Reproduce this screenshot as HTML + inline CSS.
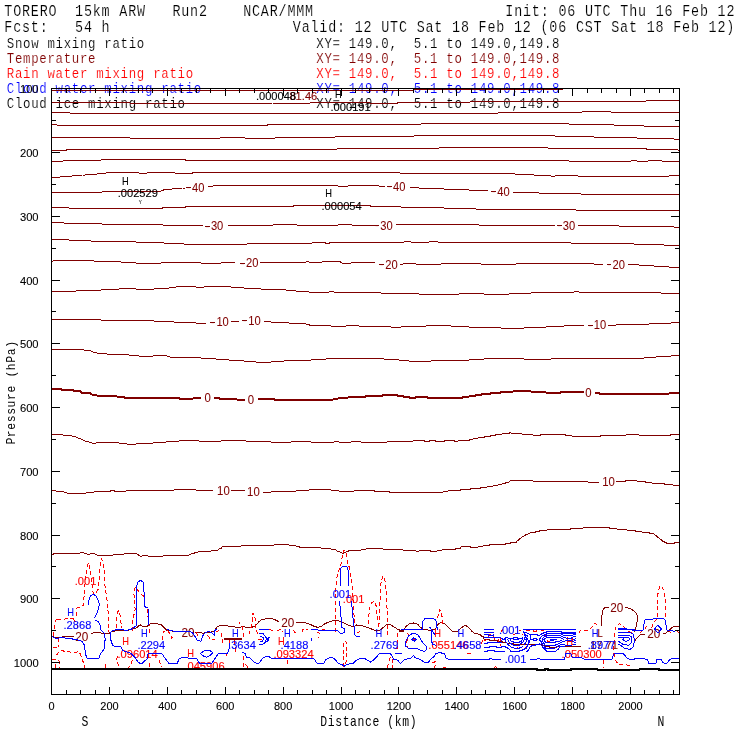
<!DOCTYPE html>
<html lang="en"><head><meta charset="utf-8"><title>TORERO 15km ARW cross section</title>
<style>
html,body{margin:0;padding:0;background:#fff;}
body{width:740px;height:740px;overflow:hidden;}
svg{display:block;}
text{white-space:pre;}
.m{font-family:"Liberation Mono","DejaVu Sans Mono",monospace;stroke:#fff;stroke-width:0.14px;}
.s{font-family:"Liberation Sans","DejaVu Sans",sans-serif;}
.t1{font-size:13.4px;letter-spacing:0.81px;}
.t2{font-size:12.4px;letter-spacing:0.69px;}
.t3{font-size:11.4px;letter-spacing:0.61px;stroke:none;}
.ax{font-size:11.2px;fill:#000;stroke:#000;stroke-width:0.1px;}
.cl{font-size:12px;stroke-width:0.06px;}
.sl{font-size:10.8px;stroke-width:0.12px;}
.ln{fill:none;stroke-linejoin:round;stroke-linecap:butt;}
</style></head><body>
<svg width="740" height="740" viewBox="0 0 740 740">
<rect x="0" y="0" width="740" height="740" fill="#fff"/>
<text class="m t1" transform="translate(4.3 15.9) scale(1 1.19)" fill="#000" text-anchor="start">TORERO  15km ARW   Run2    NCAR/MMM</text>
<text class="m t1" transform="translate(505.3 15.9) scale(1 1.19)" fill="#000" text-anchor="start">Init: 06 UTC Thu 16 Feb 12</text>
<text class="m t1" transform="translate(4.3 31.8) scale(1 1.19)" fill="#000" text-anchor="start">Fcst:   54 h</text>
<text class="m t1" transform="translate(292.8 31.8) scale(1 1.19)" fill="#000" text-anchor="start">Valid: 12 UTC Sat 18 Feb 12 (06 CST Sat 18 Feb 12)</text>
<text class="m t2" transform="translate(6.8 48) scale(1 1.22)" fill="#000" text-anchor="start">Snow mixing ratio</text>
<text class="m t2" transform="translate(316.3 48) scale(1 1.22)" fill="#000" text-anchor="start">XY= 149.0,  5.1 to 149.0,149.8</text>
<text class="m t2" transform="translate(6.8 63) scale(1 1.22)" fill="#800000" text-anchor="start">Temperature</text>
<text class="m t2" transform="translate(316.3 63) scale(1 1.22)" fill="#800000" text-anchor="start">XY= 149.0,  5.1 to 149.0,149.8</text>
<text class="m t2" transform="translate(6.8 78) scale(1 1.22)" fill="#ff0000" text-anchor="start">Rain water mixing ratio</text>
<text class="m t2" transform="translate(316.3 78) scale(1 1.22)" fill="#ff0000" text-anchor="start">XY= 149.0,  5.1 to 149.0,149.8</text>
<text class="m t2" transform="translate(6.8 92.8) scale(1 1.22)" fill="#0000ff" text-anchor="start">Cloud water mixing ratio</text>
<text class="m t2" transform="translate(316.3 92.8) scale(1 1.22)" fill="#0000ff" text-anchor="start">XY= 149.0,  5.1 to 149.0,149.8</text>
<text class="m t2" transform="translate(6.8 107.8) scale(1 1.22)" fill="#000" text-anchor="start">Cloud ice mixing ratio</text>
<text class="m t2" transform="translate(316.3 107.8) scale(1 1.22)" fill="#000" text-anchor="start">XY= 149.0,  5.1 to 149.0,149.8</text>
<g class="ln" stroke="#800000" stroke-width="1" shape-rendering="crispEdges">
<path d="M51.75 90.2 L413 90.1 L416 89.3 L560 89.2 L572 88.5"/>
<path d="M51.75 102.5 L125 102.5 L130 103 L185 103 L185 103.25 L235 103.25 L240 103.75 L267.5 103.75 L272.5 103 L310 103 L315 102.5 L370 102.5 L370 103 L397.5 103 L402.5 102 L470 102 L475 101.25 L555 101.25 L555 101.25 L645 101.25 L647.5 100.25 L679.5 100.25"/>
<path d="M51.75 112.5 L67.5 112.5 L70 113 L125 113 L130 113.75 L185 113.75 L185 113.75 L260 113.75 L265 113 L310 113 L315 113.75 L370 113.75 L370 113.75 L495 113.75 L500 112.5 L555 112.5 L555 112.5 L580 112.5 L582.5 111.75 L610 111.75 L612.5 112.5 L679.5 112.5"/>
<path d="M51.75 124.25 L55 124.25 L57.5 125.25 L125 125.25 L130 125.75 L137.5 125.75 L140 125 L185 125 L185 125 L230 125 L235 125.75 L265 125.75 L270 124.25 L370 124.25 L370 124.25 L420 124.25 L422.5 123.25 L555 123.25 L555 123.25 L567.5 123.25 L570 124.25 L612.5 124.25 L615 125.75 L642.5 125.75 L645 126.25 L679.5 126.25"/>
<path d="M51.75 137.5 L125 137.5 L130 138 L185 138 L185 138 L220 138 L222.5 137 L242.5 137 L245 138 L275 138 L277.5 137 L335 137 L340 136.5 L370 136.5 L370 136.5 L412.5 136.5 L415 135.75 L555 135.75 L555 136.5 L592.5 136.5 L595 137.5 L635 137.5 L637.5 138.25 L672.5 138.25 L675 139.25 L679.5 139.25"/>
<path d="M51.75 150.75 L65 150.75 L67.5 149.5 L185 149.5 L185 149.25 L335 149.25 L340 148.75 L370 148.75 L370 148.75 L437.5 148.75 L440 147.75 L545 147.75 L550 148.25 L555 148.25 L555 148.25 L645 148.25 L647.5 149.5 L675 149.5 L677.5 150 L679.5 150"/>
<path d="M51.75 161.25 L62.5 161.25 L65 160.25 L100 160.25 L102.5 159.25 L185 159.25 L185 160 L370 160 L370 160.25 L555 160.25 L555 160.25 L567.5 160.25 L570 161.25 L630 161.25 L632.5 160.25 L635 160.25 L637.5 161.25 L647.5 161.25 L650 160.25 L660 160.25 L662.5 161.25 L679.5 161.25"/>
<path d="M51.75 177.5 L57.5 177.5 L65 176.25 L70 176.25 L82.5 175 L85 175 L100 173.75 L102.5 173.75 L107.5 172.75 L137.5 172.75 L140 173.25 L145 173.25 L155 172.25 L162.5 172.25 L175 173 L185 173 L185 173 L192.5 173 L195 172 L335 172 L340 172.75 L355 172.75 L360 172 L370 172 L370 172 L397.5 172 L400 173 L495 173 L520 174.25 L522.5 174.25 L545 175.75 L547.5 175.75 L555 176.25 L555 175.75 L577.5 175.75 L580 176.5 L667.5 176.5 L670 175.75 L679.5 175.75"/>
<path d="M51.75 192.5 L100 192.5 L105 191.25 L160 191.25 L165 189.5 L167.5 189.5 L182.5 188 L185 188 M207.5 186.25 L212.5 186.25 L215 185.5 L335 185.5 L340 186.25 L347.5 186.25 L350 185.5 L370 185.5 L370 185.5 L377.5 185.5 L380 186.25 L385 186.25 M410 187.5 L417.5 187.5 L420 188.25 L442.5 188.25 L445 189.25 L467.5 189.25 L470 190.5 L487.5 190.5 M512.5 192.5 L537.5 192.5 L540 193.5 L555 193.5 L555 193.5 L580 193.5 L582.5 194.5 L679.5 194.5"/>
<path d="M51.75 207.5 L67.5 207.5 L70 208.5 L137.5 208.5 L140 208 L162.5 208 L165 207.5 L185 207.5 L185 206.5 L292.5 206.5 L295 205.25 L370 205.25 L370 206.5 L400 206.5 L402.5 207.5 L442.5 207.5 L445 208.5 L475 208.5 L477.5 209.5 L555 209.5 L555 209.5 L575 209.5 L577.5 210.5 L679.5 210.5"/>
<path d="M51.75 222.5 L62.5 222.5 L65 223.25 L100 223.25 L102.5 224.25 L160 224.25 L162.5 225 L185 225 L185 225.5 L202.5 225.5 M227.5 225.75 L235 225.75 L237.5 225.25 L272.5 225.25 L275 224.5 L295 224.5 L297.5 225.25 L337.5 225.25 L340 224.5 L350 224.5 L352.5 225.25 L370 225.25 L370 225.25 L377.5 225.25 M396.25 224.25 L477.5 224.25 L480 225.25 L555 225.25 M577.5 225.25 L617.5 225.25 L620 226.25 L672.5 226.25 L675 227.25 L679.5 227.25"/>
<path d="M51.75 239.25 L67.5 239.25 L70 240.5 L90 240.5 L92.5 241.5 L135 241.5 L137.5 242.5 L162.5 242.5 L165 243.5 L182.5 243.5 L185 244.5 L185 244.5 L245 244.5 L247.5 243.75 L310 243.75 L312.5 242.75 L325 242.75 L326.25 243.5 L328.75 243.5 L330 242.75 L370 242.75 L370 242.75 L402.5 242.75 L405 241.75 L410 241.75 L412.5 242.75 L427.5 242.75 L430 241.75 L437.5 241.75 L440 242.75 L555 242.75 L555 242.75 L570 242.75 L572.5 243.5 L632.5 243.5 L635 244.5 L662.5 244.5 L665 245.5 L679.5 245.5"/>
<path d="M51.75 261.25 L52.5 261.25 L55 260.5 L92.5 260.5 L95 261.5 L120 261.5 L122.5 262.5 L135 262.5 L137.5 263.5 L160 263.5 L162.5 262.5 L185 262.5 L185 262.5 L200 262.5 L202.5 263.5 L220 263.5 L222.5 262.5 L235 262.5 M260 262.5 L305 262.5 L306.25 261.75 L308.75 261.75 L310 262.5 L320 262.5 L322.5 261.75 L340 261.75 L342.5 263.5 L350 263.5 L352.5 262.5 L370 262.5 L370 262.5 L375 262.5 M400 264.25 L402.5 264.25 L405 263.5 L415 263.5 L417.5 264.5 L440 264.5 L442.5 263.5 L480 263.5 L482.5 264.5 L515 264.5 L517.5 263.5 L555 263.5 L555 263.5 L592.5 263.5 L595 264.5 L602.5 264.5 M627.5 264.5 L637.5 264.5 L640 265.5 L652.5 265.5 L655 266.5 L667.5 266.5 L670 267.5 L679.5 267.5"/>
<path d="M51.75 291.25 L75 291.25 L77.5 290.5 L100 290.5 L102.5 289.5 L117.5 289.5 L120 288.5 L135 288.5 L137.5 289.5 L152.5 289.5 L155 288.5 L167.5 288.5 L170 287.5 L175 287.5 L177.5 286.5 L185 286.5 L185 286.5 L195 286.5 L197.5 287.5 L202.5 287.5 L205 286.5 L230 286.5 L232.5 287.5 L242.5 287.5 L245 288.5 L260 288.5 L262.5 289.5 L285 289.5 L287.5 290.5 L295 290.5 L297.5 291.5 L307.5 291.5 L310 292.5 L327.5 292.5 L330 291.5 L332.5 291.5 L335 292.5 L365 292.5 L370 293 L370 292.5 L380 292.5 L382.5 293.5 L417.5 293.5 L420 294.5 L457.5 294.5 L460 293.5 L482.5 293.5 L485 294.5 L507.5 294.5 L510 293.5 L530 293.5 L532.5 292.5 L555 292.5 L555 292.5 L572.5 292.5 L575 291.5 L577.5 291.5 L580 292.5 L660 292.5 L662.5 293.5 L679.5 293.5"/>
<path d="M51.75 319.5 L100 319.5 L102.5 320.5 L152.5 320.5 L155 321.5 L172.5 321.5 L175 322.5 L185 322.5 L185 322.5 L195 322.5 L197.5 323.5 L206.25 323.5 M231.25 321.5 L238.75 321.5 M263.75 321.5 L270 321.5 L272.5 322.5 L287.5 322.5 L290 323.5 L305 323.5 L307.5 324.5 L308.75 324.5 L310 325.5 L330 325.5 L332.5 326.5 L345 326.5 L347.5 325.5 L357.5 325.5 L360 326.5 L370 326.5 L370 326.5 L390 326.5 L392.5 327.5 L400 327.5 L402.5 326.5 L425 326.5 L427.5 325.5 L450 325.5 L452.5 326.5 L467.5 326.5 L470 327.5 L500 327.5 L502.5 328.5 L522.5 328.5 L525 327.5 L545 327.5 L547.5 326.5 L555 326.5 L555 326.5 L562.5 326.5 L565 325.5 L583.75 325.5 M607.5 325.5 L615 325.5 L617.5 324.5 L647.5 324.5 L650 323.5 L670 323.5 L672.5 322.5 L679.5 322.5"/>
<path d="M51.75 349.25 L82.5 349.25 L85 350.25 L90 350.25 L92.5 352 L95 352 L97.5 353.25 L105 353.25 L107.5 354.25 L127.5 354.25 L130 355.25 L137.5 355.25 L140 356.25 L152.5 356.25 L155 355.5 L165 355.5 L170 357 L185 357 L185 357.5 L200 357.5 L202.5 358.5 L215 358.5 L217.5 359.5 L227.5 359.5 L230 360.5 L242.5 360.5 L245 361.5 L255 361.5 L257.5 362.5 L270 362.5 L272.5 361.5 L282.5 361.5 L285 360.5 L310 360.5 L312.5 359.5 L325 359.5 L327.5 358.5 L370 358.5 L370 358.5 L382.5 358.5 L385 359.5 L397.5 359.5 L400 360.5 L407.5 360.5 L410 361.5 L430 361.5 L432.5 360.5 L467.5 360.5 L470 359.5 L482.5 359.5 L485 358.5 L522.5 358.5 L525 359.5 L550 359.5 L552.5 358.5 L555 358.5 L555 358.5 L642.5 358.5 L645 357.5 L655 357.5 L657.5 356.5 L670 356.5 L672.5 355.5 L679.5 355.5"/>
<path stroke-width="2" d="M51.75 388.75 L60 388.75 L62.5 390 L72.5 390 L75 391.25 L80 391.25 L82.5 393 L90 393 L92.5 395 L95 395 L97.5 395.75 L115 395.75 L117.5 396.75 L122.5 396.75 L125 397.75 L177.5 397.75 L180 398.75 L185 398.75 L185 398.75 L192.5 398.75 L195 397.75 L201.25 397.75 M213.75 397.75 L217.5 397.75 L220 398.75 L235 398.75 L237.5 399.75 L245 399.75 M257.5 398.75 L272.5 398.75 L275 399.75 L332.5 399.75 L335 398.75 L337.5 398.75 L340 397.75 L347.5 397.75 L350 396.75 L365 396.75 L367.5 395.75 L370 395.75 L370 395.75 L382.5 395.75 L383.75 394.75 L396.25 394.75 L397.5 395.75 L402.5 395.75 L403.75 396.75 L408.75 396.75 L410 397.75 L415 397.75 L416.25 396.75 L426.25 396.75 L427.5 397.75 L462.5 397.75 L463.75 396.75 L468.75 396.75 L470 395.75 L475 395.75 L476.25 394.75 L481.25 394.75 L482.5 393.75 L490 393.75 L492.5 392.75 L500 392.75 L502.5 391.75 L512.5 391.75 L513.75 391 L530 391 L531.25 391.75 L545 391.75 L546.25 392.75 L555 392.75 L555 392.75 L560 392.75 L561.25 391.75 L583.75 391.75 M595 392.75 L598.75 392.75 L600 393.75 L668.75 393.75 L670 392.75 L679.5 392.75"/>
<path d="M51.75 434 L60 434 L62.5 435 L70 435 L72.5 436.25 L75 436.25 L77.5 438 L80 438 L82.5 440 L83.75 440 L85 441.25 L87.5 441.25 L90 442.5 L91.25 442.5 L92.5 443.25 L95 443.25 L97.5 442.5 L117.5 442.5 L120 443.25 L125 443.25 L127.5 444.25 L135 444.25 L137.5 443.25 L152.5 443.25 L155 442.5 L165 442.5 L167.5 441.5 L177.5 441.5 L180 440.5 L185 440.5 L185 440.5 L197.5 440.5 L200 441.5 L207.5 441.5 L210 441 L211.25 441 L212.5 441.5 L220 441.5 L222.5 440.5 L245 440.5 L247.5 441.5 L270 441.5 L272.5 442.5 L290 442.5 L292.5 441.5 L310 441.5 L312.5 442.5 L332.5 442.5 L335 441.5 L337.5 441.5 L340 442.5 L350 442.5 L352.5 441.5 L360 441.5 L362.5 442.5 L370 442.5 L370 442.5 L386.25 442.5 L387.5 441.5 L412.5 441.5 L413.75 440.5 L423.75 440.5 L425 441.5 L428.75 441.5 L430 440.5 L435 440.5 L436.25 441.5 L443.75 441.5 L445 440.5 L453.75 440.5 L455 441.5 L457.5 441.5 L458.75 440.5 L468.75 440.5 L470 439.5 L472.5 439.5 L473.75 438.5 L477.5 438.5 L478.75 437.5 L483.75 437.5 L485 436.5 L490 436.5 L491.25 435.5 L495 435.5 L496.25 434.5 L501.25 434.5 L502.5 433.5 L508.75 433.5 L510 432.5 L510.5 432.5 L511.25 433.5 L521.25 433.5 L522.5 434.5 L532.5 434.5 L533.75 435.5 L540 435.5 L541.25 434.5 L555 434.5 L555 434.5 L565 434.5 L566.25 435.5 L571.25 435.5 L572.5 436.5 L600 436.5 L601.25 435.5 L625 435.5 L627.5 434.5 L637.5 434.5 L640 435.5 L670 435.5 L671.25 434.5 L679.5 434.5"/>
<path d="M51.75 490.5 L55 490.5 L57.5 491.5 L62.5 491.5 L65 492.5 L66.25 492.5 L67.5 493.25 L85 493.25 L87.5 492.5 L92.5 492.5 L95 491.5 L110 491.5 L111.25 490.5 L113.75 490.5 L115 491.5 L125 491.5 L127.5 490.5 L172.5 490.5 L175 489.5 L182.5 489.5 L185 490 L185 489.5 L195 489.5 L197.5 490.5 L212.5 490.5 M231.25 490.5 L245 490.5 M262.5 492.5 L270 492.5 L272.5 491.5 L295 491.5 L297.5 490.5 L307.5 490.5 L310 489.5 L330 489.5 L332.5 490.5 L337.5 490.5 L340 491.5 L352.5 491.5 L355 490.5 L370 490.5 L370 490.5 L373.75 490.5 L375 491.5 L388.75 491.5 L390 492.5 L442.5 492.5 L443.75 491.5 L447.5 491.5 L448.75 490.5 L460 490.5 L461.25 489.5 L470 489.5 L471.25 488.5 L480 488.5 L481.25 487.5 L486.25 487.5 L487.5 486.5 L492.5 486.5 L493.75 485.5 L497.5 485.5 L498.75 484.5 L501.25 484.5 L502.5 483.5 L505 483.5 L506.25 482.5 L508.75 482.5 L510 480.75 L532.5 480.75 L535 481.5 L555 481.5 L555 481.5 L587.5 481.5 L588.75 482.5 L598.75 482.5 M616.25 481.5 L625 481.5 L626.25 480.5 L636.25 480.5 L637.5 481.5 L645 481.5 L646.25 482.5 L651.25 482.5 L652.5 483.5 L663.75 483.5 L665 484.5 L672.5 484.5 L673.75 485.5 L679.5 485.5"/>
<path d="M51.6 555.3 L54 553.6 L60.8 553.9 L74.3 553.9 L82.4 552.6 L85.1 553.2 L87.8 554.6 L93.2 553.2 L96.6 554.6 L98.6 555.9 L110.8 555.9 L113.5 554.6 L131.1 553.6 L136.5 553.6 L140.5 556.4 L144.6 555.5 L150 556.4 L160 556.2 L170 555.6 L180 555.8 L188.7 555 L192.5 553.25 L193.75 553.25 L200 551.25 L210 551.25 L212.5 550.25 L217.5 550.25 L220 548.5 L221.25 548.5 L222.5 546.5 L240 546.5 L242.5 545.5 L272.5 545.5 L275 544.5 L287.5 544.5 L290 545.5 L295 545.5 L297.5 546.5 L298.75 546.5 L300 547.5 L320 547.5 L322.5 548.5 L330 548.5 L332.5 549.5 L335 549.5 L337.5 551.25 L338 551.25 L342.5 553.25 L343 553.25 L347.5 551.25 L348 551.25 L350 550.25 L360 550.25 L362.5 549.5 L365 549.5 L367.5 548.5 L370 548.5 L370 548.5 L382.5 548.5 L383.75 549.5 L402.5 549.5 L403.75 550.5 L415 550.5 L416.25 551.25 L418.75 551.25 L420 550.5 L430 550.5 L431.25 551.5 L436.25 551.5 L437.5 550.5 L441.25 550.5 L442.5 549.5 L455 549.5 L456.25 548.5 L460 548.5 L461.25 546.5 L470 546.5 L471.25 547.5 L477.5 547.5 L478.75 546.5 L482.5 546.5 L483.75 545.5 L488.75 545.5 L490 544.5 L505 544.5 L506.25 543.5 L510 543.5 L511.25 542.5 L516.25 542.5 L517.5 540.5 L518 540.5 L520 538.5 L520.5 538.5 L522.5 536.5 L523 536.5 L526.25 534.5 L526.75 534.5 L528.75 533.5 L529.25 533.5 L531.25 532.5 L535 532.5 L536.25 531.5 L538.75 531.5 L540 530.5 L546.25 530.5 L547.5 529.5 L555 529.5 L555 529.5 L570 529.5 L571.25 528.5 L582.5 528.5 L583.75 527.5 L608.75 527.5 L610 528.5 L616.25 528.5 L617.5 529.5 L626.25 529.5 L627.5 530.5 L635 530.5 L636.25 531.5 L641.25 531.5 L642.5 532.5 L648.75 532.5 L650 533.5 L653.75 533.5 L655 535 L655.5 535 L657.5 537 L658 537 L660 539 L660.5 539 L662.5 541 L663 541 L665 542.5 L665.5 542.5 L667.5 543.5 L673.75 543.5 L675 542.5 L679.5 542.5"/>
</g>
<g class="s cl" fill="#800000" stroke="#800000" text-anchor="middle">
<text transform="translate(186.8 191.8) scale(0.93 1)" text-anchor="start"><tspan dy="-1.05">-</tspan><tspan dy="1.05" dx="1.7">40</tspan></text>
<text transform="translate(387.7 190.9) scale(0.93 1)" text-anchor="start"><tspan dy="-1.15">-</tspan><tspan dy="1.15" dx="1.7">40</tspan></text>
<text transform="translate(491.9 195.9) scale(0.93 1)" text-anchor="start"><tspan dy="-1.15">-</tspan><tspan dy="1.15" dx="1.7">40</tspan></text>
<text transform="translate(205.6 230.3) scale(0.93 1)" text-anchor="start"><tspan dy="-0.55">-</tspan><tspan dy="0.55" dx="1.7">30</tspan></text>
<text transform="translate(375 229.5) scale(0.93 1)" text-anchor="start"><tspan dy="-0.75">-</tspan><tspan dy="0.75" dx="1.7">30</tspan></text>
<text transform="translate(557.5 229.9) scale(0.93 1)" text-anchor="start"><tspan dy="-1.15">-</tspan><tspan dy="1.15" dx="1.7">30</tspan></text>
<text transform="translate(240.8 267.2) scale(0.93 1)" text-anchor="start"><tspan dy="-0.45">-</tspan><tspan dy="0.45" dx="1.7">20</tspan></text>
<text transform="translate(380 268.6) scale(0.93 1)" text-anchor="start"><tspan dy="-0.85">-</tspan><tspan dy="0.85" dx="1.7">20</tspan></text>
<text transform="translate(607.2 268.9) scale(0.93 1)" text-anchor="start"><tspan dy="-1.15">-</tspan><tspan dy="1.15" dx="1.7">20</tspan></text>
<text transform="translate(211.1 326) scale(0.93 1)" text-anchor="start"><tspan dy="-0.25">-</tspan><tspan dy="0.25" dx="1.7">10</tspan></text>
<text transform="translate(242.9 324.8) scale(0.93 1)" text-anchor="start"><tspan dy="-1.05">-</tspan><tspan dy="1.05" dx="1.7">10</tspan></text>
<text transform="translate(588.5 329.3) scale(0.93 1)" text-anchor="start"><tspan dy="-0.55">-</tspan><tspan dy="0.55" dx="1.7">10</tspan></text>
<text transform="translate(207.6 402.3) scale(0.95 1)">0</text>
<text transform="translate(250.8 403.9) scale(0.95 1)">0</text>
<text transform="translate(588.3 397.3) scale(0.95 1)">0</text>
<text transform="translate(223.4 495) scale(0.95 1)">10</text>
<text transform="translate(253.4 495.9) scale(0.95 1)">10</text>
<text transform="translate(608.5 486.3) scale(0.95 1)">10</text>
</g>
<path class="ln" stroke="#800000" stroke-width="1" shape-rendering="crispEdges" d="M186.1 187.5h4.8 M387 186.5h4.8 M491.2 191.5h4.8 M204.9 226.5h4.8 M374.3 225.5h4.8 M556.8 225.5h4.8 M240.1 263.5h4.8 M379.3 264.5h4.8 M606.5 264.5h4.8 M210.4 322.5h4.8 M242.2 320.5h4.8 M587.8 325.5h4.8"/>
<g class="ln" stroke="#800000" stroke-width="1" shape-rendering="crispEdges">
<path d="M51.6 636.5 L55.4 637.4 L63.5 636.9 L74.3 636.5 M90.5 633.4 L95.9 632.4 L104.1 633.4 L109.5 633.1 L112.2 631.1 L125.7 630.7 L131.1 629.7 L136.5 627.7 L140.3 624.7 L141.9 626.1 L144 626.4 L147.4 626.1 L150.8 623.4 L156.2 623.6 L161.6 625 L165 628.4 L167 630.4 L172.4 631.1 L180.5 631.5 M195.4 632.4 L203.5 633.1 L206.2 632.4 L213.6 631.8 L215.7 629 L217.7 626.4 L221 625.3 L226.5 625.7 L234.6 627 L240.8 627 L243.5 626.4 L247.6 628 L251.6 627.4 L255.7 625.7 L259 621.6 L262.4 619.3 L270.5 618.2 L274.6 619.6 L278.6 621.6 M296.2 622.3 L303 622.3 L308.4 623.6 L313.8 626.1 L317.8 627.4 L321.9 626.4 L324 624.3 L329.5 621.6 L334.9 620.3 L338.9 621 L344.3 623 L349.7 625.7 L353.8 627 L356.5 625 L360.5 625.3 L366 627 L371.4 629 L376.8 631.1 L379.5 630.7 L382.2 628.4 L386.2 625 L390.3 624.7 L394.3 627 L398.4 629.7 L402.4 630.4 L404 629.7 L406 626.4 L409.5 623.6 L413.5 623 L417.6 624.3 L420.3 627 L423 629 L429.7 630.4 L435.8 629 L437.2 625 L440.5 622.6 L444.6 623.6 L447.3 626.4 L450 629 L452 631 L458.1 631 L460.8 628.4 L463.5 626.1 L466.2 625.7 L468.9 627.7 L471.6 631 L474.3 633.1 L479.7 634.5 L482 636.3 L483.2 636.5 L483.6 638 L484.4 639.5 L489.7 639.5 L490 640.5 L497.4 640.5 L497.8 641.5 L502 641.5 L503 642.5 L506 642.5 L508 643.5 L513.8 643.5 L514 644.5 L535.7 644.5 M539.4 643.5 L541 644.5 L543.8 645.5 L547 646.5 L549.5 646.5 L550 647.5 L555 647.5 L557 647 L565 646.5 L581 646.5 M601.2 625.7 L601.9 615.5 L603.2 608.8 L605.3 607.4 L608.6 607.2 M625.4 607.4 L630.8 608.8 L634.9 611.5 L637.3 615.5 L637.3 621 L636.2 626.4 L635.5 630.4 L633.6 632.4 M633.5 641.2 L634.9 640.5 L637.6 637.2 L640.3 634.5 L645 634.2 M662.6 633.4 L666 633.1 L669.3 630.4 L672.7 627 L675.4 626.4 L679.5 626.4"/>
<path stroke-width="2" d="M223.8 638.5 L242.2 638.5 M399 630.5 L404 630.5"/>
</g>
<g class="s cl" fill="#800000" stroke="#800000" text-anchor="middle">
<text transform="translate(81.8 640.8) scale(0.98 1)">20</text>
<text transform="translate(188 636.8) scale(0.98 1)">20</text>
<text transform="translate(287.8 627) scale(0.98 1)">20</text>
<text transform="translate(616.8 611.8) scale(0.98 1)">20</text>
<text transform="translate(653.8 637.5) scale(0.98 1)">20</text>
<text class="sl" transform="translate(600.2 636.75) scale(0.86 1)">L</text>
<text class="sl" transform="translate(604 649.45) scale(1.03 1)">17.71</text>
<text class="sl" transform="translate(301.5 100.45) scale(1.03 1)">-81.46</text>
</g>
<g class="ln" stroke="#ff0000" stroke-width="1" stroke-dasharray="4 2.7" shape-rendering="crispEdges">
<path d="M57 619.2 L73 618.8 L76.4 615.5 L77 608.1 L83.5 605.3 L84.5 589 L85.8 575.5 L86.5 571.5 L87.6 564.7 L88.5 562.7 L89.5 564.7 L90.3 572.8 L92.6 589 L93.4 594.5 L96.6 591.8 L98.6 588.4 L99.7 570 L100.3 562 L101.4 558.6 L102.7 562 L104 568.8 L104.7 575.5 L105.1 589 L106.5 595.8 L107.4 602.6 L108.4 616 L108.8 631.8 M57 619.2 L55.4 620.5 L54.7 629 L53.4 634.5 L55 637.5 M73 619 L76 622.5 L79 630.4 M58.5 638.5 L58.8 646.6 M52.7 647.3 L57.4 647.3 M56.5 655.5 L58.5 652 L62 650.6 L66.5 651.8 L75.7 652.3 L79 651.4 L81.8 657.4 L83.8 664.2 L84.5 668.2 M52 659.2 L58.8 660.2 L59.5 664 L59.5 668 M55 663.5 L55 668 M116.2 627.7 L116.9 615.5 L118.2 610.8 L119.6 611.5 L120.9 621 L121.4 627.7 M132.4 631 L133.1 618.8 L135.1 609.3 L134.5 602.6 L133.8 591.8 L135.4 587 L137.8 590.4 L139.9 593.1 L143.2 595.8 L143.9 599.9 M147.4 608.8 L147.8 615.5 L148.4 620 L149.5 629 L149.5 633 M117.6 656 L116.2 661.5 L119 665.5 L121 668 M132.4 660 L131 664 L128.4 667.6 M105.4 664.2 L106 668 M149.5 663 L149.5 668 M159 660 L160.3 663.5 L162.3 667.6 M162.3 640 L162.3 634.5 L163.6 631.8 L167 629.7 L170.4 634.5 L171.8 638.5 L172.4 635.8 M196 632.4 L199.5 638.5 M207.6 635.1 L210.3 639.2 L215 639.6 M215.7 631.8 L219.7 630.4 L221 633.1 L222.4 638.5 L222.4 645.3 M229.2 640 L229.9 648 M234.6 640 L236 652 M226.5 653.5 L226.5 656 M249.6 634.5 L250.3 629 L251.6 626.4 L252.3 621 L253 612.8 L255 618.2 L255.7 626.4 L257 631.8 L257.7 635.8 M239.5 622.3 L240 624.3 M242.8 626.4 L243.5 637.2 M243.5 656 L244.2 661.5 L243.5 668 M245.5 664.2 L248.2 667.6 M235.4 648 L235.4 652.7 M269.2 629.7 L273.2 630.4 L274 633.1 M276.6 630.4 L281.4 629.7 L283.4 632.4 M293.5 630.4 L295.5 633.1 M302.3 632.4 L302.3 629.7 L308.4 629.7 M316.5 631.8 L319.2 633.1 L318.5 638.5 M321.9 629.7 L324.6 629.7 M287.4 660 L288 665.5 M258.4 639.6 L263 639.6 M335.4 631.9 L335.4 607.6 L335.7 594 L336.4 580.5 L337.7 572.4 L340.4 567 L341.8 560.3 L342.4 554.9 L343.8 550.1 L345.4 550.8 L346.5 554.9 L347.2 561.6 L349.2 567 L350.5 575.1 L351.9 584.6 L352.6 594 L353.5 607.6 L354.3 618.4 L354.9 623.8 M368.1 623.8 L368.8 615.7 L370.1 606.2 L372.2 602.2 L374.9 601.5 L376.2 606.2 L376.9 615.7 L378.2 622.4 L378.1 629 M378.9 626.5 L379.6 610.3 L380.9 583.2 L383 575.8 L385 580.5 L386.4 594 L387 607.6 L387 623.8 L387.7 634.6 L388.2 638.5 M344 667 L343.2 656 L343.6 645.3 L344.3 640.5 L346.4 642.6 L346.4 656 L345.7 667 M397.7 633.1 L397 639.9 L397.7 648 L393 648.6 M390.3 657.4 L388.2 663 L387.6 668.2 M393 658.8 L392.3 668.2 M356.5 632.4 L360.5 631.8 M407.4 633.1 L408.8 635.8 L407.4 639.9 L406 644 L407.4 647.3 M411.5 639.6 L416.9 639.6 M437.2 618.2 L438.5 614.9 L439.9 609.5 L441.2 614.2 L442.6 618.2 L441.9 622.3 L443.2 625 M432.4 662.8 L435.8 661.5 L436.5 664.2 L433.8 667.6 M443.2 667.6 L446 667.6 M483.8 641.2 L486.5 639.9 L489.2 634.5 L493.2 635.8 L494.6 639.9 M498 639 L498.4 646 M500 637.5 L500.3 646.5 M467 653.1 L471 653.1 M494 668 L495.5 666.5 L497 668 M481 644 L483 640.5 L484 643 M500.5 632.5 L502.5 630 L506 629 M513 634.5 L517 633.3 L520 630 L522 632 L523 635 M526 630.3 L531 630.3 M533 630.8 L535 631.6 L537 630.8 M540.5 630.3 L544 630.3 M544.5 634.5 L546 637 L547.5 641.5 L550 641.5 M517 646.8 L517.6 647.6 M525 647 L526 648 M579 633.1 L580.3 630.4 L589.7 630.1 L592.4 626.4 L595.1 623 L597.8 626.4 M631.6 633.1 L627.6 630.4 L623.5 626.4 L619.5 623.4 L616 627 L614.7 634.5 L614 645.3 L613.8 653.4 L615.4 660.1 L618.8 664.9 L626.2 664.9 L630.3 665.3 L630.3 668.2 M603.2 660.1 L603.2 668.2 M651.8 628.4 L652.4 623.6 L656.5 619.6 L657.2 618.2 L657.2 599.3 L658.5 589.9 L660.5 585.5 L661.9 586.5 L663.9 591.2 L665.3 599.3 L665.5 616.9 M647 626 L645 628.5 M642.3 630.5 L640.3 632.5 M668.6 631.8 L671.4 632.4 M676.8 631.8 L679.5 632.4 M567 637 L567 645 M572 637 L572 645"/>
</g>
<g class="s cl" text-anchor="middle" fill="#ff0000" stroke="#ff0000">
<text class="sl" transform="translate(85.5 585.25) scale(1.03 1)">.001</text>
<text class="sl" transform="translate(125.7 644.95) scale(0.86 1)">H</text>
<text class="sl" transform="translate(137.6 658.15) scale(1.03 1)">.096014</text>
<text class="sl" transform="translate(190.7 656.95) scale(0.86 1)">H</text>
<text class="sl" transform="translate(204.5 669.55) scale(1.03 1)">.045906</text>
<text class="sl" transform="translate(281.4 644.95) scale(0.86 1)">H</text>
<text class="sl" transform="translate(293.5 658.15) scale(1.03 1)">.093324</text>
<text class="sl" transform="translate(353.6 603.45) scale(1.03 1)">.001</text>
<text class="sl" transform="translate(437.5 636.75) scale(0.86 1)">H</text>
<text class="sl" transform="translate(448.4 649.35) scale(1.03 1)">.055146</text>
<text class="sl" transform="translate(569.5 644.95) scale(0.86 1)">H</text>
<text class="sl" transform="translate(581.7 657.55) scale(1.03 1)">.050300</text>
</g>
<g class="ln" stroke="#0000ff" stroke-width="1" shape-rendering="crispEdges">
<path d="M88.5 605.4 L89.2 598.6 L91.2 595.3 L93.2 594.3 L95.9 595.9 L98 600 L99.3 604.1 L98.6 608.8 L96.6 614.2 L94.6 617.6 M95.3 620.3 L98 621.6 L100 625 L100.7 629.7 L104.1 633.1 L105.1 638.5 L104.7 648 L102 652 L100 654.7 L98.9 658.4 L87.2 658.4 L85.4 654 L84.5 645.3 L81.8 641.2 L77 639.6 L63.5 637.8 L55.4 638.2 L51.6 636.5 M136.5 625.7 L131 629.3 L125.7 630.7 L123 629.5 L116.2 629.5 L111.5 631.1 L110.1 634.5 L110.8 639.9 L112.8 645.9 L120.9 646.6 L123 650.7 L131.1 653.4 L135.1 657.4 L138.5 662.8 L141.9 663.5 L144 661.5 L147.4 658.8 L148.1 653.4 L161.6 653.4 L163.6 656.1 L166.4 660.1 L169 663.5 L177.2 663.5 L179.2 658.8 L183.2 657.2 L188.6 658.1 L196.8 658.1 L198.1 661.5 L200.1 663.5 L211.6 663.5 L214.3 659.5 L218.4 653.4 L227.8 653.1 L229.2 648.6 L229.9 642.6 M242.2 652.7 L245.5 653.4 L246.2 657.4 L250.3 658.1 L252.3 660.1 L255 662.8 L258.4 663.5 L260.4 661.5 L262.4 658.1 L266.5 656.5 L269.2 656.8 L271.9 658.4 L313.8 658.4 L315.8 661.5 L317.2 663.5 L323.2 663.5 L324 662.8 L326 659.5 L329.5 657.7 L333.5 658.1 L336.2 660.8 L338.2 663.5 L342.3 664.9 L345 666.2 L347 664.2 L353.1 663.5 L355.8 660.8 L359.2 658.8 L364.6 658.5 L367.3 660.1 L370.7 662.2 L373.4 660.1 L376.8 656.8 L379.5 653.4 L390.3 653.4 L392.3 656.1 L393.6 659.5 L397.7 660.1 L400.4 663.5 L402.7 661.5 L404.7 659.5 L410.8 658.1 L413.5 655.4 L414.9 657.7 L420.3 659.5 L424.3 662.2 L428.4 662.2 L430.4 659.5 L433.8 656.8 L435.8 653.4 L439.9 652.7 L444.6 653.6 L446 658.1 L449.3 659.5 L489.2 659.5 L490.5 658.1 L493.2 659.5 L501 659.5 M530 659.5 L536 659.5 L538 658.5 L542 659.5 L564.7 659.5 L565.4 653.4 L570.8 653.4 L572.2 657.4 L583 658.1 L584.3 659.5 L612 659.5 L613.4 654.7 L615.4 653.1 L622.8 653.1 L624.9 655.4 L627.6 658.8 L633 659.5 L636.2 658.5 L644.3 658.5 L647.7 660.1 L649 663.5 L655.8 663.5 L656.8 659.5 L661.2 659.5 L663.2 662.8 L666.6 663.5 L669.3 660.1 L671.4 658.5 L679.5 658.5 M136.5 625.5 L136.5 586.4 L137.8 582.3 L140.5 580.3 L143.2 582.3 L143.9 589 L144.6 606.6 L148 608 L148.4 625.5 M167 629.7 L171 630.4 L175.1 631.5 L180.5 631.1 L190 631.5 L192.7 633.1 L195.4 637.2 L197.4 640.5 L200.8 641.2 L202.8 635.8 L205.5 632.4 L208.9 631.5 L211.6 632.4 L214.3 635.1 L215 630.4 L216.4 629 M200.1 653.4 L204.9 650.7 L209.6 650.4 L213 652.7 L210.3 655.4 L206.2 657.2 L202.8 655.7 L200.1 653.4 M259 629.7 L268.5 629.7 M259 633.1 L263.1 633.8 L265.8 636.5 L266.5 639.2 L265.1 642.6 L262.4 644.2 L259 644.6 M260.4 636.5 L263.1 637.4 L263.8 639.2 L262.4 641.2 L260.4 641.5 M265 636.5 L269.2 640 L265 642.5 M269.5 636.8 L266.5 640.3 M311 638.5 L311.6 641.2 M311 629.7 L320 630.1 L337 630.3 L339.7 633 L342.4 633.5 L344.9 631.9 L344.5 628.5 L341.8 627.8 L341.1 618.4 L340 606.2 L339.5 601.5 M340.4 586 L340.4 568.4 L341.8 567 L345.8 566.4 L347.8 567.7 L348.5 573.8 L348.9 586 M351.2 601.5 L352.6 610.3 L353.2 621 L354.3 627.8 L354.9 634.6 L356.6 636.6 L360 637 M395 653.1 L400.4 653.1 M401 629.5 L422.3 629.5 L423 621 L425 618.5 L432.4 618.2 L435.8 619.6 L436.8 626.4 L437.5 630 M429.7 627 L433 632 L435 635 M431 629 L431 638.5 L432.4 644 L435.8 645.3 M413.5 633.4 L417.6 634.5 L420.3 638.5 L423 643.2 L426.4 646.6 L427 649.3 L424.3 651.4 L420.3 650 L414.9 648 L408.1 648 L405.4 646 L406 641.2 L408.1 636.5 L410.8 634.2 L413.5 633.4 M411.5 639.9 L413.5 637.8 L416.2 639.2 L414.2 641.2 L411.5 639.9 M400 653.4 L401.5 653.4 M484 629.5 L494 629.5 M484 632.5 L494 632.5 M484 634.5 L488 634.5 L488.3 635.5 L493.5 635.5 L493.8 634.5 L494.3 634.5 M484 637.5 L500.8 637.5 L501.2 638.5 L502.8 638.5 M484 643.5 L487.2 643.5 L487.5 642.5 L502 642.5 M484 647.5 L489.2 647.5 L489.5 646.5 L496 646.5 L496.3 647.5 L501.8 647.5 L502 646.5 L505 646.5 L505.2 647.5 L507 647.5 L507.3 648.5 L508.8 648.5 L509.5 649.5 L510.5 650.5 L511 651.5 L519 651.5 L519.2 650.5 L522.7 650.5 L523 649.5 L524.3 649.5 L524.6 648.5 L526 648.5 L526.8 647 L527.5 645.5 L528.2 644 L528.5 641.5 L528.2 640 L527.2 639.3 L526.4 638 L525.5 636 L524.8 634 L524 632.5 L523.5 631.5 M484 651.5 L487.2 651.5 L487.5 650.5 L494.2 650.5 L494.5 651.5 L505 651.5 M501.2 640.5 L503 639.5 L505.3 638.3 L506 637.5 L508 637.5 M503.2 639.5 L505 639.5 L505.5 641 L506.5 642.5 L508 644.5 L509.3 645.5 L510.5 646.5 L511.4 647.5 L513.8 647.5 L514.2 648.5 L519 648.5 L519.2 647.5 L521.9 647.5 L522.3 646.5 L523.5 645.5 L524.3 644.3 L525 643.5 L526 641.8 L526.4 640.5 L526 639.5 L524.8 639.5 M507.3 639.5 L508.5 640.5 L509.3 642.5 L511.8 644.2 L513.4 645.5 L519 645.5 L519.3 644.5 L521 643.5 L522.3 642.5 L523.5 641.5 L524.3 639.7 L524.7 638.5 L523.9 637.5 M510.5 637.5 L510.5 640.5 L511.3 641.5 L513 641.5 L513.4 642.5 L519 642.5 L519.2 641.5 L521 641.5 L521.5 640.5 L522.3 639.5 L522.7 638.5 L522.3 637.5 M508 638.5 L513 638.5 L513.2 637.5 L517.8 637.5 L518 638.5 L522.3 638.5 M513 639.5 L519 639.5 M524 635.5 L526.8 635.5 L528 636.5 M524.3 637.5 L526.4 637.5 M527.2 638.5 L528 639.5 M529.5 640 L529.5 643 M530 635 L530 639 M523 629.5 L576 629.5 M523.5 631.5 L524.3 632.5 L526.8 632.5 L527.2 633.5 L528.8 633.5 L529.2 634.5 L537 634.5 L537.3 635.5 L539.8 635.5 L540.2 634.5 L541 634.5 L541.2 633.5 L543 633.5 L543.2 632.5 L546.7 632.5 L547 631.5 L561 631.5 L561.3 632.5 L576 632.5 M530 639.5 L533.3 639.5 L534 638.5 L536.5 638.5 L537.3 639.5 L535.7 640.5 L533.3 640.5 L532.6 639.5 M526 651.5 L527.6 651.5 L528 650.5 L529.2 649 L530 647 L531.7 646 L532 645.5 L535.7 645.5 L536 644.5 L539 644.5 L539.4 643.5 L541 645 L543 647.5 L545 649.5 L547 651.5 L555.7 651.5 L556.5 650.5 L558 649.5 L558.8 648.5 L559.5 647 L560 646.5 L564.6 646.5 M576 633.5 L561 633.5 M561 633.5 L547 633.5 L546.7 634.5 L545 634.5 L543.8 635.5 L542.2 635.5 L541.4 636.5 L540.6 637.5 L539.3 639.5 L541 641.5 L542 643.5 L543.5 645.5 L545 647.5 L546.2 648.5 L554.9 648.5 L555.5 647.5 L556.5 646.5 L557.7 646.5 M561 635.5 L547 635.5 L546.7 636.5 L544.5 636.5 L543 637.8 L542.2 639.5 L542.6 641.5 L544 643.5 L545.5 645.5 L550 645.5 L555.7 645.5 L556 644.5 L557.7 644.5 M561 637.5 L547 637.5 L545 638.5 L543.8 639.5 L544.6 641.5 L546.2 642.5 L555.7 642.5 L556 641.5 L559.7 641.5 M550 639.5 L556.9 639.5 M550 640.5 L554 640.5 M561.3 634.5 L563 634.5 M573 634.5 L576 634.5 M563 635.5 L572.7 635.5 M561.3 636.5 L563 636.5 M573 636.5 L576 636.5 M563.4 637.5 L565.8 637.5 M571 637.5 L572.7 637.5 M561.3 638.5 L562.6 638.5 M566.2 638.5 L572 638.5 M574.7 638.5 L576 638.5 M562.6 639.5 L563.8 639.5 M573 639.5 L574.7 639.5 M560 640.5 L561.8 640.5 M565 640.5 L572 640.5 M574.3 640.5 L576 640.5 M562 641.5 L564.6 641.5 M572.3 641.5 L574 641.5 M560 642.5 L561.8 642.5 M574.3 642.5 L576 642.5 M558 643.5 L559.7 643.5 M560 644.5 L564.6 644.5 M572.7 644.5 L576 644.5 M558 645.5 L559.7 645.5 M565.4 645.5 L572 645.5 M618 629.5 L643 630.4 L643.6 626.4 L644.6 620.3 L646.4 619.3 L663.2 618.5 L665.3 620.3 L666.2 626.4 L667 630.4 L670 630.7 L674 631.1 L679.5 630.7 M618 628.8 L635 629.2 M618 632.4 L630.3 632.4 L633.6 634.5 L634.3 639.9 L633.6 646.6 L630.3 649.3 L624.9 648.6 L620.8 645.3 L618 644.6 M618 635.1 L628.9 635.1 L631.6 637.2 L631.6 642.6 L628.9 645.3 L623.5 644.6 L619.5 641.9 L618 641.2 M622.8 639.2 L623.8 637.6 L626.2 637.2 L628.6 637.6 L629.6 639.2 L628.6 640.8 L626.2 641.2 L623.8 640.8 L622.8 639.2 M618 637.5 L623.5 637 M654.5 629 L657.8 625.3 L661.6 629 L657.8 633.1 L654.5 629"/>
</g>
<g class="s cl" text-anchor="middle" fill="#0000ff" stroke="#0000ff">
<text class="sl" transform="translate(70.6 616.35) scale(0.86 1)">H</text>
<text class="sl" transform="translate(77.4 628.85) scale(1.03 1)">.2868</text>
<text class="sl" transform="translate(144.3 636.75) scale(0.86 1)">H</text>
<text class="sl" transform="translate(151.3 649.35) scale(1.03 1)">.2294</text>
<text class="sl" transform="translate(235.4 636.75) scale(0.86 1)">H</text>
<text class="sl" transform="translate(242 649.35) scale(1.03 1)">.3634</text>
<text class="sl" transform="translate(287.4 636.75) scale(0.86 1)">H</text>
<text class="sl" transform="translate(294.5 649.35) scale(1.03 1)">.4188</text>
<text class="sl" transform="translate(340.4 597.95) scale(1.03 1)">.001</text>
<text class="sl" transform="translate(378.8 636.75) scale(0.86 1)">H</text>
<text class="sl" transform="translate(384.5 649.35) scale(1.03 1)">.2769</text>
<text class="sl" transform="translate(460.8 636.75) scale(0.86 1)">H</text>
<text class="sl" transform="translate(467.6 649.35) scale(1.03 1)">.4658</text>
<text class="sl" transform="translate(509.7 634.05) scale(1.03 1)">.001</text>
<text class="sl" transform="translate(515.5 663.05) scale(1.03 1)">.001</text>
<text class="sl" transform="translate(595.1 636.75) scale(0.86 1)">H</text>
<text class="sl" transform="translate(601.6 649.45) scale(1.03 1)">.8977</text>
</g>
<g class="s cl" text-anchor="middle" fill="#000" stroke="#000">
<text class="sl" transform="translate(125.3 184.55) scale(0.86 1)">H</text>
<text class="sl" transform="translate(137.8 197.15) scale(1.03 1)">.002529</text>
<text class="sl" transform="translate(328.5 197.45) scale(0.86 1)">H</text>
<text class="sl" transform="translate(341.6 210.25) scale(1.03 1)">.000054</text>
<text class="sl" transform="translate(276 100.45) scale(1.03 1)">.000048</text>
<text class="sl" transform="translate(338.4 97.65) scale(0.86 1)">H</text>
<text class="sl" transform="translate(350.6 110.95) scale(1.03 1)">.000191</text>
<text x="140.3" y="203.6" style="font-size:4.5px">Y</text>
</g>
<path class="ln" stroke="#000" stroke-width="2" shape-rendering="crispEdges" d="M51.5 669 L537 669 L537 670 L544.8 670 L544.8 669 L548 669 L548 670 L571 670 L571 669 L597.5 669 L597.5 670 L639.5 670 L639.5 669 L659.3 669 L659.3 670 L679.5 670"/>
<g class="ln" stroke="#000" stroke-width="1" shape-rendering="crispEdges">
<rect x="51.5" y="88.5" width="628" height="606"/>
<path d="M51.5 120.5h4.5 M679.5 120.5h-4.5 M51.5 152.5h8.5 M679.5 152.5h-8.5 M51.5 184.5h4.5 M679.5 184.5h-4.5 M51.5 216.5h8.5 M679.5 216.5h-8.5 M51.5 248.5h4.5 M679.5 248.5h-4.5 M51.5 280.5h8.5 M679.5 280.5h-8.5 M51.5 311.5h4.5 M679.5 311.5h-4.5 M51.5 343.5h8.5 M679.5 343.5h-8.5 M51.5 375.5h4.5 M679.5 375.5h-4.5 M51.5 407.5h8.5 M679.5 407.5h-8.5 M51.5 439.5h4.5 M679.5 439.5h-4.5 M51.5 471.5h8.5 M679.5 471.5h-8.5 M51.5 503.5h4.5 M679.5 503.5h-4.5 M51.5 535.5h8.5 M679.5 535.5h-8.5 M51.5 566.5h4.5 M679.5 566.5h-4.5 M51.5 598.5h8.5 M679.5 598.5h-8.5 M51.5 630.5h4.5 M679.5 630.5h-4.5 M51.5 662.5h8.5 M679.5 662.5h-8.5 M66.5 694.5v-4.5 M66.5 88.5v4.5 M80.5 694.5v-4.5 M80.5 88.5v4.5 M95.5 694.5v-4.5 M95.5 88.5v4.5 M109.5 694.5v-7.5 M109.5 88.5v7.5 M123.5 694.5v-4.5 M123.5 88.5v4.5 M138.5 694.5v-4.5 M138.5 88.5v4.5 M152.5 694.5v-4.5 M152.5 88.5v4.5 M167.5 694.5v-7.5 M167.5 88.5v7.5 M181.5 694.5v-4.5 M181.5 88.5v4.5 M196.5 694.5v-4.5 M196.5 88.5v4.5 M210.5 694.5v-4.5 M210.5 88.5v4.5 M225.5 694.5v-7.5 M225.5 88.5v7.5 M239.5 694.5v-4.5 M239.5 88.5v4.5 M254.5 694.5v-4.5 M254.5 88.5v4.5 M268.5 694.5v-4.5 M268.5 88.5v4.5 M283.5 694.5v-7.5 M283.5 88.5v7.5 M297.5 694.5v-4.5 M297.5 88.5v4.5 M312.5 694.5v-4.5 M312.5 88.5v4.5 M326.5 694.5v-4.5 M326.5 88.5v4.5 M341.5 694.5v-7.5 M341.5 88.5v7.5 M355.5 694.5v-4.5 M355.5 88.5v4.5 M369.5 694.5v-4.5 M369.5 88.5v4.5 M384.5 694.5v-4.5 M384.5 88.5v4.5 M398.5 694.5v-7.5 M398.5 88.5v7.5 M413.5 694.5v-4.5 M413.5 88.5v4.5 M427.5 694.5v-4.5 M427.5 88.5v4.5 M442.5 694.5v-4.5 M442.5 88.5v4.5 M456.5 694.5v-7.5 M456.5 88.5v7.5 M471.5 694.5v-4.5 M471.5 88.5v4.5 M485.5 694.5v-4.5 M485.5 88.5v4.5 M500.5 694.5v-4.5 M500.5 88.5v4.5 M514.5 694.5v-7.5 M514.5 88.5v7.5 M529.5 694.5v-4.5 M529.5 88.5v4.5 M543.5 694.5v-4.5 M543.5 88.5v4.5 M558.5 694.5v-4.5 M558.5 88.5v4.5 M572.5 694.5v-7.5 M572.5 88.5v7.5 M587.5 694.5v-4.5 M587.5 88.5v4.5 M601.5 694.5v-4.5 M601.5 88.5v4.5 M616.5 694.5v-4.5 M616.5 88.5v4.5 M630.5 694.5v-7.5 M630.5 88.5v7.5 M644.5 694.5v-4.5 M644.5 88.5v4.5 M659.5 694.5v-4.5 M659.5 88.5v4.5 M673.5 694.5v-4.5 M673.5 88.5v4.5"/>
</g>
<g class="s ax" text-anchor="end">
<text transform="translate(38.6 92.6) scale(1 1)">100</text>
<text transform="translate(38.6 156.6) scale(1 1)">200</text>
<text transform="translate(38.6 220.6) scale(1 1)">300</text>
<text transform="translate(38.6 284.6) scale(1 1)">400</text>
<text transform="translate(38.6 347.6) scale(1 1)">500</text>
<text transform="translate(38.6 411.6) scale(1 1)">600</text>
<text transform="translate(38.6 475.6) scale(1 1)">700</text>
<text transform="translate(38.6 539.6) scale(1 1)">800</text>
<text transform="translate(38.6 602.6) scale(1 1)">900</text>
<text transform="translate(38.6 666.6) scale(1 1)">1000</text>
</g>
<g class="s ax" text-anchor="middle">
<text transform="translate(51.6 710.2) scale(0.98 1)">0</text>
<text transform="translate(109.49 710.2) scale(0.98 1)">200</text>
<text transform="translate(167.38 710.2) scale(0.98 1)">400</text>
<text transform="translate(225.26 710.2) scale(0.98 1)">600</text>
<text transform="translate(283.15 710.2) scale(0.98 1)">800</text>
<text transform="translate(341.04 710.2) scale(0.98 1)">1000</text>
<text transform="translate(398.93 710.2) scale(0.98 1)">1200</text>
<text transform="translate(456.82 710.2) scale(0.98 1)">1400</text>
<text transform="translate(514.7 710.2) scale(0.98 1)">1600</text>
<text transform="translate(572.59 710.2) scale(0.98 1)">1800</text>
<text transform="translate(630.48 710.2) scale(0.98 1)">2000</text>
</g>
<text class="m t3" transform="translate(320.3 726) scale(1 1.21)" fill="#000" text-anchor="start">Distance (km)</text>
<text class="m t3" transform="translate(81.4 726) scale(1 1.21)" fill="#000" text-anchor="start">S</text>
<text class="m t3" transform="translate(657.5 726) scale(1 1.21)" fill="#000" text-anchor="start">N</text>
<text class="m t3" transform="translate(15.4 444.6) rotate(-90) scale(1 1.17)" fill="#000" text-anchor="start">Pressure (hPa)</text>
</svg></body></html>
